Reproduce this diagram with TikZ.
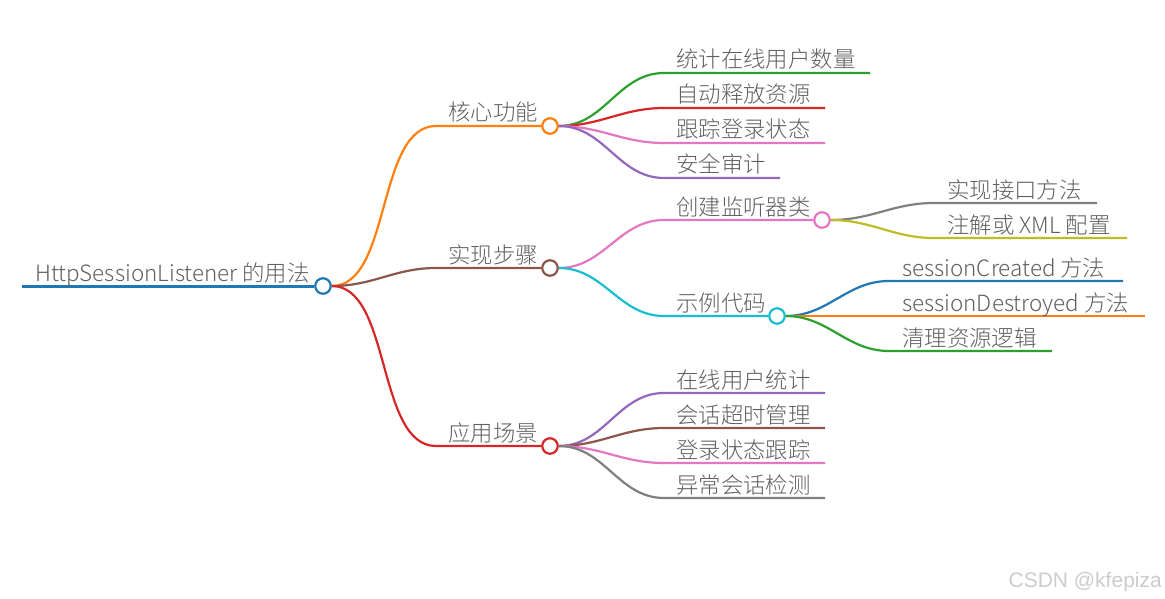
\documentclass[tikz,border=0pt]{standalone}
\usepackage{fontspec}
\setmainfont{Noto Sans CJK SC Light}
\newfontfamily\markfont{Liberation Sans}
\usepackage{tikz}
\definecolor{cblue}{HTML}{1F77B4}
\definecolor{corange}{HTML}{FF7F0E}
\definecolor{cgreen}{HTML}{2CA02C}
\definecolor{cred}{HTML}{D62728}
\definecolor{cpurple}{HTML}{9467BD}
\definecolor{cbrown}{HTML}{8C564B}
\definecolor{cpink}{HTML}{E377C2}
\definecolor{cgray}{HTML}{7F7F7F}
\definecolor{colive}{HTML}{BCBD22}
\definecolor{ccyan}{HTML}{17BECF}
\definecolor{txtgray}{HTML}{5F5F5F}

\begin{document}
\begin{tikzpicture}[x=1pt,y=-1pt,
    knob/.style={circle,draw,line width=2.2pt,fill=white,minimum size=15.5pt,inner sep=0pt},
    lbl/.style={anchor=base west,inner sep=0pt,text=txtgray,font=\fontsize{22.4}{26}\selectfont},
    br/.style={line width=2.2pt,out=0,in=180}]
\useasboundingbox (0,0) rectangle (1165,599);
\node[knob,draw=cblue] (root) at (323,286) {};
\node[knob,draw=corange] (core) at (550,126) {};
\node[knob,draw=cbrown] (step) at (550,268) {};
\node[knob,draw=cred] (scene) at (550,446) {};
\node[knob,draw=cpink] (make) at (822,220) {};
\node[knob,draw=ccyan] (code) at (777,316) {};

\coordinate (rootL) at (22,286);
\coordinate (coreS) at (436,126);
\coordinate (stepS) at (436,268);
\coordinate (sceneS) at (436,446);
\coordinate (core1) at (664,73);
\coordinate (core1e) at (870,73);
\coordinate (core2) at (664,108);
\coordinate (core2e) at (825,108);
\coordinate (core3) at (664,143);
\coordinate (core3e) at (825,143);
\coordinate (core4) at (664,178);
\coordinate (core4e) at (780,178);
\coordinate (makeS) at (664,220);
\coordinate (codeS) at (664,316);
\coordinate (make1) at (934,203);
\coordinate (make1e) at (1097,203);
\coordinate (make2) at (934,238);
\coordinate (make2e) at (1127,238);
\coordinate (code1) at (889,281);
\coordinate (code1e) at (1123,281);
\coordinate (code2) at (889,316);
\coordinate (code2e) at (1145,316);
\coordinate (code3) at (889,351);
\coordinate (code3e) at (1052,351);
\coordinate (scene1) at (664,393);
\coordinate (scene1e) at (825,393);
\coordinate (scene2) at (664,428);
\coordinate (scene2e) at (825,428);
\coordinate (scene3) at (664,463);
\coordinate (scene3e) at (825,463);
\coordinate (scene4) at (664,498);
\coordinate (scene4e) at (825,498);

\draw[line width=3pt,cblue] (rootL) -- (root);
\draw[br,looseness=0.8,corange] (root) to (coreS) -- (core);
\draw[br,cbrown] (root) to (stepS) -- (step);
\draw[br,looseness=0.8,cred] (root) to (sceneS) -- (scene);

\draw[br,cgreen] (core) to (core1) -- (core1e);
\draw[br,cred] (core) to (core2) -- (core2e);
\draw[br,cpink] (core) to (core3) -- (core3e);
\draw[br,cpurple] (core) to (core4) -- (core4e);

\draw[br,cpink] (step) to (makeS) -- (make);
\draw[br,ccyan] (step) to (codeS) -- (code);

\draw[br,cgray] (make) to (make1) -- (make1e);
\draw[br,colive] (make) to (make2) -- (make2e);
\draw[br,cblue] (code) to (code1) -- (code1e);
\draw[br,corange] (code) to (code2) -- (code2e);
\draw[br,cgreen] (code) to (code3) -- (code3e);

\draw[br,cpurple] (scene) to (scene1) -- (scene1e);
\draw[br,cbrown] (scene) to (scene2) -- (scene2e);
\draw[br,cpink] (scene) to (scene3) -- (scene3e);
\draw[br,cgray] (scene) to (scene4) -- (scene4e);

\node[lbl] (rootT) at (35,281) {HttpSessionListener 的用法};
\node[lbl] (coreT) at (448,121) {核心功能};
\node[lbl] (stepT) at (448,263) {实现步骤};
\node[lbl] (sceneT) at (448,441) {应用场景};
\node[lbl] (core1T) at (676,68) {统计在线用户数量};
\node[lbl] (core2T) at (676,103) {自动释放资源};
\node[lbl] (core3T) at (676,138) {跟踪登录状态};
\node[lbl] (core4T) at (676,173) {安全审计};
\node[lbl] (makeT) at (676,215) {创建监听器类};
\node[lbl] (codeT) at (676,311) {示例代码};
\node[lbl] (make1T) at (947,198) {实现接口方法};
\node[lbl] (make2T) at (947,233) {注解或 XML 配置};
\node[lbl] (code1T) at (902,276) {sessionCreated 方法};
\node[lbl] (code2T) at (902,311) {sessionDestroyed 方法};
\node[lbl] (code3T) at (902,346) {清理资源逻辑};
\node[lbl] (scene1T) at (676,388) {在线用户统计};
\node[lbl] (scene2T) at (676,423) {会话超时管理};
\node[lbl] (scene3T) at (676,458) {登录状态跟踪};
\node[lbl] (scene4T) at (676,493) {异常会话检测};

\node[anchor=base east,inner sep=0pt,text=black!20,font=\markfont\fontsize{21}{25}\selectfont] (mark) at (1162,587) {CSDN @kfepiza};
\end{tikzpicture}
\end{document}
